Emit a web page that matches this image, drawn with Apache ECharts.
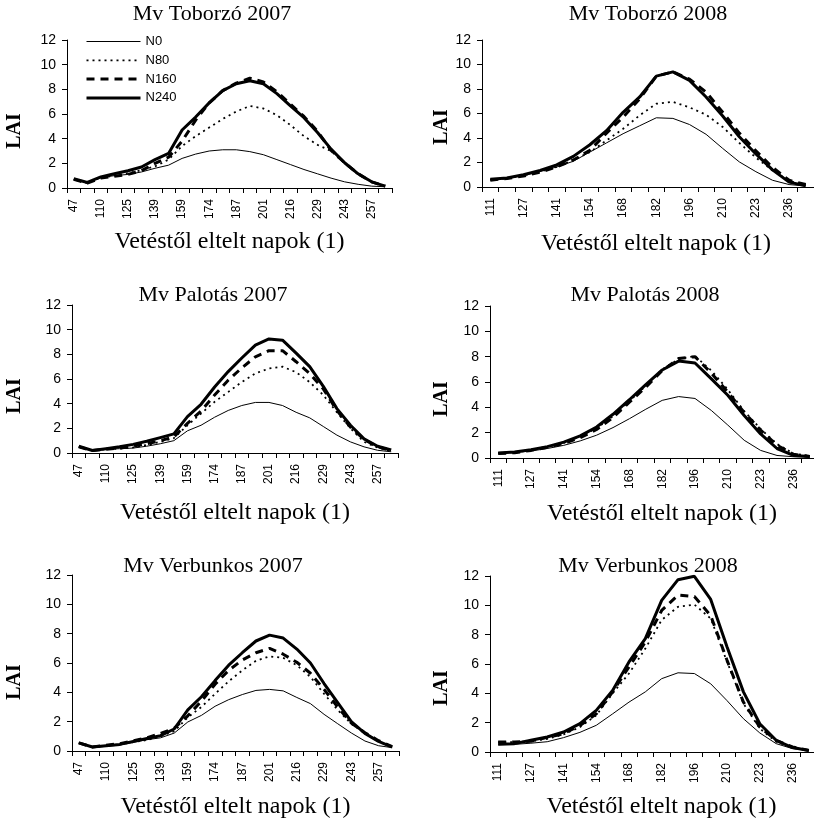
<!DOCTYPE html>
<html>
<head>
<meta charset="utf-8">
<title>LAI</title>
<script src="https://cdn.jsdelivr.net/npm/echarts@6/dist/echarts.min.js"></script>
<style>
  html, body { margin: 0; padding: 0; background: #fff; }
  #chart { width: 814px; height: 823px; }
</style>
</head>
<body>
<div id="chart"></div>
<script>
// days after sowing (only every second one gets a label)
var days2007 = ["47", "103", "110", "118", "125", "132", "139", "146", "159", "167", "174", "181",
  "187", "194", "201", "209", "216", "222", "229", "236", "243", "250", "257", "264"];
var days2008 = ["111", "119", "127", "134", "141", "148", "154", "161", "168", "175",
  "182", "189", "196", "203", "210", "217", "223", "230", "236", "243"];
var seriesNames = ["N0", "N80", "N160", "N240"];

// Mv Toborzó
var toborzo2007N0 = [0.7, 0.45, 0.85, 1.0, 1.1, 1.3, 1.6, 1.85, 2.4, 2.75, 3.0, 3.1, 3.1, 2.95, 2.7, 2.3, 1.9, 1.5, 1.15, 0.8, 0.5, 0.3, 0.15, 0.1];
var toborzo2007N80 = [0.7, 0.4, 0.85, 1.0, 1.2, 1.45, 1.75, 2.3, 3.4, 4.2, 4.9, 5.6, 6.2, 6.65, 6.45, 5.9, 5.1, 4.2, 3.5, 3.0, 2.0, 1.1, 0.5, 0.15];
var toborzo2007N160 = [0.7, 0.4, 0.8, 0.95, 1.1, 1.4, 2.0, 2.5, 3.8, 5.5, 6.9, 7.9, 8.5, 8.9, 8.6, 7.8, 6.8, 5.8, 4.6, 3.05, 2.05, 1.15, 0.5, 0.15];
var toborzo2007N240 = [0.75, 0.45, 0.9, 1.15, 1.4, 1.7, 2.3, 2.8, 4.7, 5.75, 6.9, 7.9, 8.45, 8.7, 8.45, 7.65, 6.65, 5.7, 4.5, 3.15, 2.05, 1.15, 0.5, 0.15];

var toborzo2008N0 = [0.6, 0.73, 0.95, 1.28, 1.63, 2.1, 2.85, 3.6, 4.35, 5.0, 5.65, 5.6, 5.1, 4.3, 3.15, 2.05, 1.25, 0.55, 0.2, 0.08];
var toborzo2008N80 = [0.6, 0.7, 0.95, 1.25, 1.65, 2.2, 2.85, 3.8, 4.75, 5.85, 6.8, 6.95, 6.5, 5.9, 4.9, 3.6, 2.4, 1.35, 0.5, 0.15];
var toborzo2008N160 = [0.55, 0.7, 0.9, 1.2, 1.65, 2.2, 3.0, 4.4, 5.7, 7.2, 9.05, 9.4, 8.8, 7.75, 6.1, 4.4, 2.95, 1.6, 0.55, 0.2];
var toborzo2008N240 = [0.63, 0.73, 1.0, 1.35, 1.8, 2.5, 3.45, 4.6, 6.1, 7.35, 9.05, 9.4, 8.7, 7.35, 5.8, 4.1, 2.7, 1.4, 0.4, 0.1];

// Mv Palotás
var palotas2007N0 = [0.5, 0.2, 0.3, 0.35, 0.4, 0.55, 0.75, 1.0, 1.8, 2.25, 2.9, 3.45, 3.85, 4.1, 4.1, 3.85, 3.3, 2.85, 2.15, 1.45, 0.9, 0.5, 0.22, 0.1];
var palotas2007N80 = [0.5, 0.2, 0.3, 0.35, 0.45, 0.65, 0.9, 1.2, 2.25, 3.2, 4.15, 4.95, 5.75, 6.45, 6.85, 7.0, 6.55, 5.75, 4.7, 3.3, 2.0, 0.9, 0.45, 0.15];
var palotas2007N160 = [0.5, 0.2, 0.3, 0.4, 0.55, 0.75, 1.0, 1.3, 2.4, 3.4, 4.7, 5.9, 6.9, 7.8, 8.3, 8.3, 7.4, 6.45, 5.2, 3.45, 2.1, 1.1, 0.5, 0.2];
var palotas2007N240 = [0.55, 0.2, 0.35, 0.5, 0.7, 0.95, 1.25, 1.55, 2.95, 3.95, 5.35, 6.6, 7.7, 8.75, 9.25, 9.15, 8.1, 7.0, 5.4, 3.6, 2.25, 1.15, 0.55, 0.25];

var palotas2008N0 = [0.4, 0.45, 0.55, 0.75, 1.0, 1.35, 1.8, 2.4, 3.1, 3.85, 4.55, 4.85, 4.7, 3.75, 2.6, 1.4, 0.6, 0.2, 0.1, 0.08];
var palotas2008N80 = [0.4, 0.45, 0.62, 0.88, 1.2, 1.7, 2.35, 3.3, 4.5, 5.7, 7.0, 7.8, 8.05, 6.9, 5.4, 3.7, 2.3, 1.1, 0.35, 0.15];
var palotas2008N160 = [0.35, 0.42, 0.6, 0.85, 1.15, 1.6, 2.25, 3.2, 4.4, 5.6, 6.9, 7.85, 8.0, 6.7, 5.2, 3.6, 2.2, 1.0, 0.3, 0.12];
var palotas2008N240 = [0.4, 0.47, 0.65, 0.9, 1.25, 1.75, 2.45, 3.45, 4.6, 5.8, 6.95, 7.65, 7.5, 6.25, 4.95, 3.35, 1.9, 0.75, 0.2, 0.12];

// Mv Verbunkos
var verbunkos2007N0 = [0.55, 0.23, 0.32, 0.4, 0.6, 0.77, 0.9, 1.22, 1.98, 2.43, 3.05, 3.5, 3.85, 4.13, 4.2, 4.1, 3.65, 3.23, 2.5, 1.86, 1.23, 0.68, 0.36, 0.23];
var verbunkos2007N80 = [0.55, 0.27, 0.35, 0.45, 0.6, 0.75, 1.0, 1.35, 2.3, 3.0, 3.9, 4.75, 5.5, 6.15, 6.45, 6.35, 5.85, 5.05, 3.9, 2.8, 1.85, 1.2, 0.65, 0.25];
var verbunkos2007N160 = [0.55, 0.27, 0.4, 0.5, 0.7, 0.9, 1.2, 1.55, 2.4, 3.4, 4.55, 5.5, 6.2, 6.7, 7.0, 6.6, 6.05, 5.3, 4.2, 3.0, 1.9, 1.25, 0.7, 0.3];
var verbunkos2007N240 = [0.55, 0.27, 0.36, 0.45, 0.65, 0.85, 1.05, 1.5, 2.8, 3.7, 4.8, 5.85, 6.7, 7.5, 7.9, 7.7, 6.95, 6.0, 4.6, 3.3, 2.0, 1.2, 0.65, 0.27];

var verbunkos2008N0 = [0.5, 0.52, 0.6, 0.7, 0.98, 1.34, 1.82, 2.6, 3.4, 4.1, 5.0, 5.4, 5.35, 4.65, 3.5, 2.27, 1.3, 0.57, 0.23, 0.1];
var verbunkos2008N80 = [0.68, 0.68, 0.73, 0.9, 1.2, 1.7, 2.5, 4.0, 5.35, 7.05, 9.0, 9.9, 10.05, 9.1, 6.15, 3.3, 1.6, 0.7, 0.3, 0.1];
var verbunkos2008N160 = [0.68, 0.68, 0.73, 1.0, 1.25, 1.8, 2.6, 4.1, 5.8, 7.5, 9.65, 10.7, 10.6, 9.3, 6.25, 3.4, 1.7, 0.8, 0.35, 0.1];
var verbunkos2008N240 = [0.52, 0.57, 0.8, 1.02, 1.36, 1.93, 2.84, 4.2, 6.14, 7.73, 10.34, 11.75, 11.98, 10.4, 7.16, 4.1, 1.93, 0.8, 0.3, 0.1];

var myChart = echarts.init(document.getElementById("chart"));

// grid = [left, top, width, height]
var panels = [
  { title: "Mv Toborzó 2007", days: days2007, grid: [67, 40, 325, 148], titleAt: [212, 14], laiAt: [15, 131], nameShift: 0, nameGap: 42,
    data: [toborzo2007N0, toborzo2007N80, toborzo2007N160, toborzo2007N240] },
  { title: "Mv Toborzó 2008", days: days2008, grid: [482, 40, 332, 147], titleAt: [648, 14], laiAt: [442, 127], nameShift: 16, nameGap: 45,
    data: [toborzo2008N0, toborzo2008N80, toborzo2008N160, toborzo2008N240] },
  { title: "Mv Palotás 2007", days: days2007, grid: [72, 305, 326, 148], titleAt: [213, 295], laiAt: [15, 396], nameShift: 0, nameGap: 48,
    data: [palotas2007N0, palotas2007N80, palotas2007N160, palotas2007N240] },
  { title: "Mv Palotás 2008", days: days2008, grid: [490, 306, 328, 152], titleAt: [645, 295], laiAt: [442, 399], nameShift: 16, nameGap: 44,
    data: [palotas2008N0, palotas2008N80, palotas2008N160, palotas2008N240] },
  { title: "Mv Verbunkos 2007", days: days2007, grid: [72, 575, 327, 176], titleAt: [213, 566], laiAt: [15, 682], nameShift: 0, nameGap: 44,
    data: [verbunkos2007N0, verbunkos2007N80, verbunkos2007N160, verbunkos2007N240] },
  { title: "Mv Verbunkos 2008", days: days2008, grid: [490, 576, 327, 176], titleAt: [648, 566], laiAt: [442, 688], nameShift: 16, nameGap: 43,
    data: [verbunkos2008N0, verbunkos2008N80, verbunkos2008N160, verbunkos2008N240] }
];

var lineStyles = [
  { color: "#000", width: 1, type: "solid" },
  { color: "#000", width: 1.8, type: [2, 4] },
  { color: "#000", width: 3, type: [8, 6] },
  { color: "#000", width: 3, type: "solid" }
];

var option = {
  animation: false,
  backgroundColor: "#fff",
  legend: {
    data: seriesNames.map(function (name, k) {
      return {
        name: name,
        itemStyle: { opacity: 0 },
        lineStyle: { color: "#000", width: lineStyles[k].width, type: lineStyles[k].type }
      };
    }),
    orient: "vertical",
    left: 80,
    top: 30,
    itemWidth: 54,
    itemHeight: 14,
    itemGap: 5.8,
    textStyle: { fontFamily: "Liberation Sans", fontSize: 13, color: "#000" }
  },
  grid: [],
  xAxis: [],
  yAxis: [],
  series: [],
  graphic: []
};

panels.forEach(function (p, i) {
  option.grid.push({
    left: p.grid[0], top: p.grid[1], width: p.grid[2], height: p.grid[3],
    outerBoundsMode: "none"
  });
  option.xAxis.push({
    type: "category",
    gridIndex: i,
    data: p.days,
    boundaryGap: true,
    name: "Vetéstől eltelt napok (1)",
    nameLocation: "middle",
    nameGap: p.nameGap,
    nameTextStyle: {
      fontFamily: "Liberation Serif", fontSize: 24, color: "#000",
      padding: [0, 0, 0, p.nameShift]
    },
    axisLine: { lineStyle: { color: "#000", width: 1 } },
    axisTick: { show: true, interval: 0, length: 5, lineStyle: { color: "#000" } },
    axisLabel: {
      interval: 1, rotate: 90, margin: 11,
      fontFamily: "Liberation Sans", fontSize: 12, color: "#000"
    },
    splitLine: { show: false }
  });
  option.yAxis.push({
    type: "value",
    gridIndex: i,
    min: 0,
    max: 12,
    interval: 2,
    axisLine: { show: true, lineStyle: { color: "#000", width: 1 } },
    axisTick: { show: true, length: 5, lineStyle: { color: "#000" } },
    axisLabel: { margin: 11, fontFamily: "Liberation Sans", fontSize: 14, color: "#000" },
    splitLine: { show: false }
  });
  p.data.forEach(function (values, k) {
    option.series.push({
      name: seriesNames[k],
      type: "line",
      xAxisIndex: i,
      yAxisIndex: i,
      data: values,
      symbol: "none",
      smooth: false,
      z: 2 + k,
      lineStyle: lineStyles[k],
      itemStyle: { color: "#000" }
    });
  });
  option.graphic.push({
    type: "text",
    x: p.titleAt[0],
    y: p.titleAt[1],
    style: {
      text: p.title,
      font: "22px 'Liberation Serif'",
      fill: "#000",
      align: "center", verticalAlign: "middle",
      textAlign: "center", textVerticalAlign: "middle"
    }
  });
  option.graphic.push({
    type: "text",
    x: p.laiAt[0],
    y: p.laiAt[1],
    rotation: Math.PI / 2,
    style: {
      text: "LAI",
      font: "bold 20px 'Liberation Serif'",
      fill: "#000",
      align: "center", verticalAlign: "middle",
      textAlign: "center", textVerticalAlign: "middle"
    }
  });
});

myChart.setOption(option);
window.addEventListener("resize", function () {
  myChart.resize();
});
</script>
</body>
</html>
